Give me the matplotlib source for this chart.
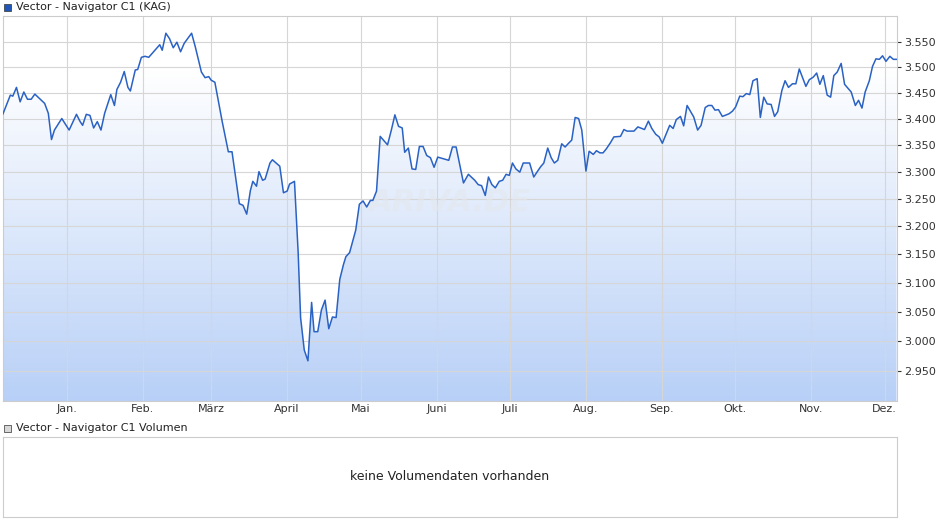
import matplotlib
matplotlib.use("Agg")
import matplotlib.pyplot as plt
import matplotlib.dates as mdates
from matplotlib.ticker import FixedLocator, NullLocator, FuncFormatter
import numpy as np
import pandas as pd

# Tage ab Start (06.12.2024) und Kurswerte
tage = [0, 3, 4, 5.5, 7, 8.5, 10, 11.5, 13, 17, 18.5, 19.8, 21, 24, 27, 30, 31.5, 32.5, 34, 35.5,
        37, 38.5, 40, 41.5, 44, 45.5, 46.5, 48, 49.5, 51, 52, 54, 55, 56.5, 58, 59.5, 64, 65, 66.5, 68,
        69.5, 71, 72.5, 74, 77, 78.5, 81, 82.5, 84, 85, 86.5, 89.5, 92, 93.5, 96.5, 98, 99.5, 101, 102, 103.5,
        104.5, 106, 107, 109, 110, 113, 114.5, 116, 117, 119, 120.5, 121.5, 123, 124.5, 126, 127, 128.5, 130,
        131.5, 133, 134.5, 136, 137.5, 139, 140, 141.5, 144, 145.5, 147, 148.5, 150, 151, 152.5, 154, 157,
        158.5, 160, 161.5, 163, 164, 165.5, 167, 168.5, 170, 171.5, 173, 174.5, 176, 177.5, 182, 183.5, 185,
        188, 190, 192.6, 194, 195.4, 196.9, 198.2, 199.6, 201, 202.6, 204, 205.4, 206.7, 208, 209.4, 211,
        212.4, 213.7, 215, 216.7, 218, 219.5, 220.8, 222.4, 223.8, 225.1, 226.5, 228.1, 229.5, 230.9, 232.2,
        233.6, 235, 236.3, 238, 239.3, 241, 242.3, 243.7, 245, 246.4, 248, 249.4, 252.1, 253.5, 254.8, 257.6,
        259.2, 261.9, 263.5, 264.9, 266.5, 267.9, 269.2, 272.2, 273.6, 274.9, 276.6, 277.9, 279.3, 282, 283.6,
        285, 286.7, 288, 289.4, 290.7, 292.1, 293.7, 296.4, 297.8, 299.1, 300.8, 302.1, 303.5, 304.9, 306.2,
        307.9, 309.2, 310.6, 312, 313.6, 315, 316.3, 318, 319.3, 320.7, 322.3, 323.7, 325.1, 327.8, 329.2,
        330.8, 332.2, 333.5, 334.9, 336.5, 337.9, 339.2, 340.6, 342.2, 343.6, 346.3, 348, 349.3, 350.7, 352,
        353.7, 355, 356.4, 357.8, 359.1, 360.5, 362.1, 363.5, 364.8]
kurs = [3.409, 3.445, 3.443, 3.460, 3.432, 3.451, 3.437, 3.437, 3.447, 3.429, 3.410, 3.360, 3.378, 3.400,
        3.378, 3.408, 3.394, 3.387, 3.408, 3.406, 3.382, 3.394, 3.378, 3.410, 3.446, 3.425, 3.456, 3.470,
        3.491, 3.460, 3.453, 3.494, 3.495, 3.519, 3.521, 3.519, 3.544, 3.533, 3.567, 3.556, 3.538, 3.549,
        3.530, 3.547, 3.567, 3.540, 3.490, 3.479, 3.481, 3.474, 3.470, 3.394, 3.337, 3.337, 3.241, 3.238,
        3.222, 3.265, 3.282, 3.273, 3.300, 3.284, 3.286, 3.316, 3.322, 3.310, 3.261, 3.264, 3.277, 3.282,
        3.154, 3.040, 2.985, 2.967, 3.066, 3.016, 3.016, 3.053, 3.070, 3.021, 3.041, 3.040, 3.106, 3.132,
        3.146, 3.153, 3.193, 3.240, 3.246, 3.235, 3.247, 3.247, 3.264, 3.366, 3.350, 3.377, 3.407, 3.385,
        3.382, 3.336, 3.344, 3.305, 3.304, 3.347, 3.347, 3.330, 3.326, 3.308, 3.327, 3.321, 3.346, 3.346,
        3.279, 3.295, 3.284, 3.276, 3.274, 3.256, 3.290, 3.276, 3.270, 3.282, 3.284, 3.295, 3.293, 3.316,
        3.305, 3.299, 3.316, 3.316, 3.316, 3.290, 3.299, 3.309, 3.316, 3.344, 3.326, 3.316, 3.321, 3.352,
        3.346, 3.353, 3.359, 3.402, 3.400, 3.378, 3.301, 3.338, 3.332, 3.339, 3.335, 3.335, 3.343, 3.354,
        3.365, 3.366, 3.379, 3.376, 3.376, 3.384, 3.379, 3.395, 3.381, 3.370, 3.365, 3.353, 3.387, 3.381,
        3.398, 3.404, 3.386, 3.425, 3.403, 3.378, 3.387, 3.421, 3.425, 3.425, 3.416, 3.417, 3.404, 3.409,
        3.414, 3.422, 3.443, 3.442, 3.448, 3.446, 3.473, 3.477, 3.402, 3.441, 3.428, 3.427, 3.404, 3.413,
        3.454, 3.473, 3.460, 3.467, 3.467, 3.496, 3.462, 3.475, 3.480, 3.488, 3.466, 3.483, 3.445, 3.441,
        3.483, 3.490, 3.507, 3.466, 3.451, 3.425, 3.435, 3.420, 3.451, 3.473, 3.501, 3.516, 3.515, 3.522,
        3.511, 3.521, 3.515, 3.515]

yticks = [2.95, 3.0, 3.05, 3.1, 3.15, 3.2, 3.25, 3.3, 3.35, 3.4, 3.45, 3.5, 3.55]
monate = ["Jan.", "Feb.", "März", "April", "Mai", "Juni", "Juli", "Aug.", "Sep.", "Okt.", "Nov.", "Dez."]

start = pd.Timestamp("2024-12-06")
datum = [start + pd.Timedelta(days=d) for d in tage]
xd = mdates.date2num(datum)

W, H = 940, 526
fig = plt.figure(figsize=(W / 100, H / 100), dpi=100)
ax = fig.add_axes([3 / W, 1 - 401 / H, 894 / W, 385 / H])
ax.set_yscale("log")
ymin, ymax = 2.9007, 3.6017
x0 = mdates.date2num(start)
x1 = mdates.date2num(start + pd.Timedelta(days=365))
ax.set_xlim(x0, x1)
ax.set_ylim(ymin, ymax)

# Verlaufsfüllung unter der Kurve
poly = ax.fill_between(xd, kurs, ymin, color="none")
grad = np.linspace(0, 1, 256).reshape(-1, 1)
from matplotlib.colors import LinearSegmentedColormap
cmap = LinearSegmentedColormap.from_list("g", ["#b8d0f7", "#ffffff"])
im = ax.imshow(grad, cmap=cmap, aspect="auto", origin="lower",
               extent=[0, 1, 0, 0.86], transform=ax.transAxes, zorder=1)
im.set_clip_path(poly.get_paths()[0], transform=ax.transData)
ax.plot(xd, kurs, color="#2a62c4", lw=1.1, zorder=3)

ax.text(0.5, 0.515, "ARIVA.DE", transform=ax.transAxes, fontsize=22, fontstyle="italic",
        fontweight="bold", color="#e4e8ee", alpha=0.6, ha="center", va="center", zorder=2)

ax.yaxis.set_major_locator(FixedLocator(yticks))
ax.yaxis.set_minor_locator(NullLocator())
ax.yaxis.set_major_formatter(FuncFormatter(lambda v, p: f"{v:.3f}"))
ax.yaxis.tick_right()
mstart = [mdates.date2num(pd.Timestamp(2025, m, 1)) for m in range(1, 13)]
ax.set_xticks(mstart)
ax.set_xticklabels(monate)
ax.tick_params(labelsize=8, colors="#333333", length=3, pad=2)
ax.tick_params(axis="x", length=0)
ax.grid(True, color="#d6d6d6", lw=0.8, zorder=0)
for s in ax.spines.values():
    s.set_color("#cccccc")
    s.set_linewidth(0.8)

fig.patches.append(plt.Rectangle((4 / W, 1 - 11 / H), 7 / W, 7 / H, transform=fig.transFigure,
                                 facecolor="#1f56b8", edgecolor="#333333", lw=0.5))
fig.text(16 / W, 1 - 7 / H, "Vector - Navigator C1 (KAG)", fontsize=8, va="center", color="#222222")
fig.patches.append(plt.Rectangle((4 / W, 1 - 432 / H), 7 / W, 7 / H, transform=fig.transFigure,
                                 facecolor="#d8d8d8", edgecolor="#333333", lw=0.5))
fig.text(16 / W, 1 - 428 / H, "Vector - Navigator C1 Volumen", fontsize=8, va="center", color="#222222")

ax2 = fig.add_axes([3 / W, 1 - 517 / H, 894 / W, 80 / H])
ax2.set_xticks([])
ax2.set_yticks([])
for s in ax2.spines.values():
    s.set_color("#cccccc")
    s.set_linewidth(0.8)
ax2.text(0.5, 0.5, "keine Volumendaten vorhanden", ha="center", va="center", fontsize=9,
         transform=ax2.transAxes, color="#222222")

fig.savefig("out.png", dpi=100)
